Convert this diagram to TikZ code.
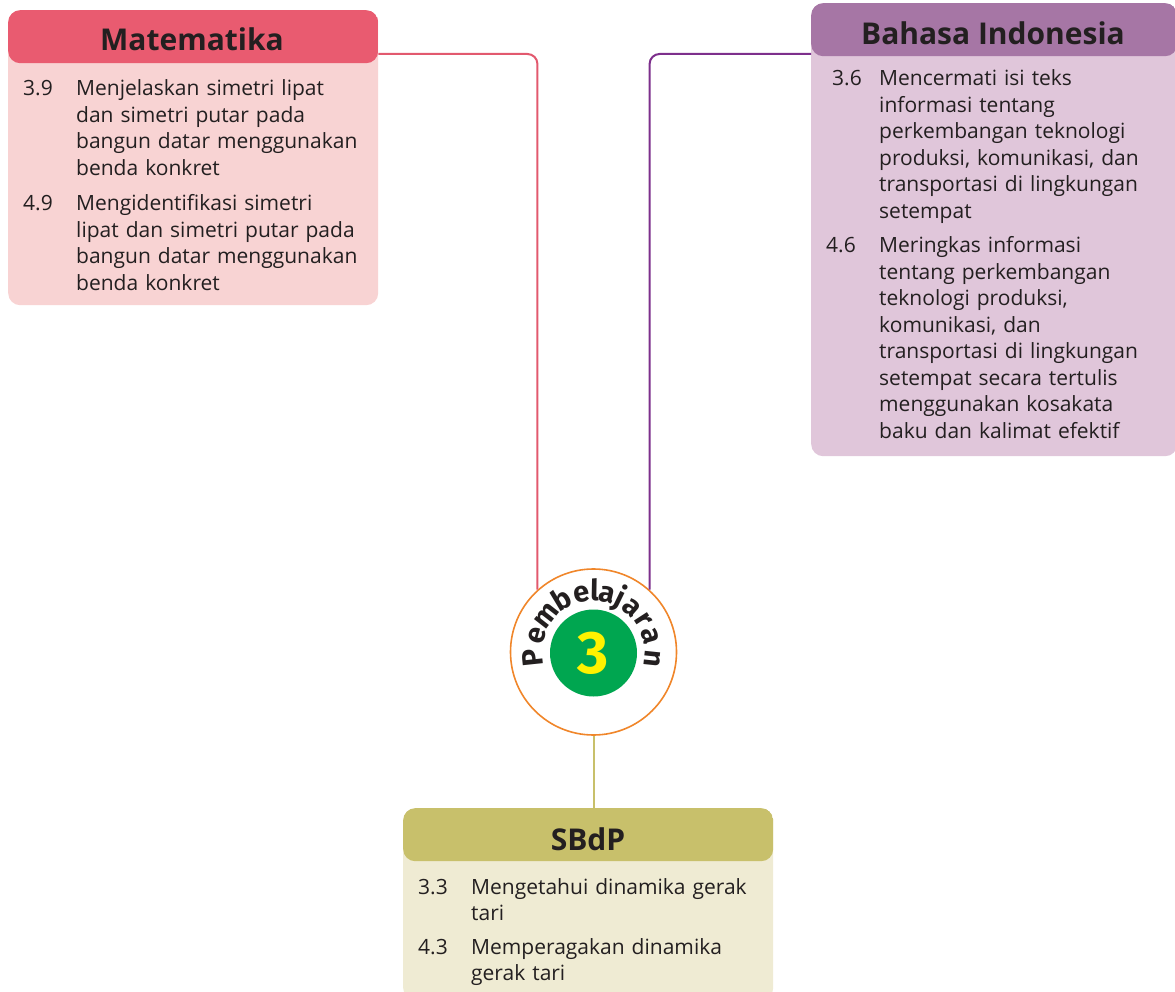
\documentclass[tikz,border=0pt]{standalone}
\usepackage{fontspec}
\setmainfont{Open Sans}
\newfontfamily\ringfont{Fira Sans}
\usetikzlibrary{calc}
\definecolor{ink}{HTML}{231F20}
\definecolor{matHead}{HTML}{E95B70}
\definecolor{matBody}{HTML}{F8D3D3}
\definecolor{matLine}{HTML}{E2596E}
\definecolor{bhsHead}{HTML}{A676A5}
\definecolor{bhsBody}{HTML}{E0C6DA}
\definecolor{bhsLine}{HTML}{7D2F8C}
\definecolor{sbdHead}{HTML}{C8C06B}
\definecolor{sbdBody}{HTML}{EFEBD3}
\definecolor{ringOrange}{HTML}{F0862A}
\definecolor{numGreen}{HTML}{00A650}
\definecolor{numYellow}{HTML}{FFF200}
\begin{document}
\begin{tikzpicture}[x=1pt,y=-1pt,
  bodytxt/.style={anchor=base west, inner sep=0pt, text width=320pt, align=left,
    font=\fontsize{21}{26.5}\selectfont, text=ink},
  numtxt/.style={anchor=base west, inner sep=0pt, font=\fontsize{21}{26.5}\selectfont, text=ink},
  ttl/.style={anchor=base, inner sep=0pt, font=\fontsize{30}{30}\selectfont\bfseries, text=ink},
  box/.style={rectangle, rounded corners=12pt, inner sep=0pt, anchor=north west, draw=none},
  ringletter/.style={anchor=base, inner sep=0pt, font=\ringfont\fontsize{29}{29}\selectfont\bfseries, text=ink},
  conn/.style={line width=2pt, rounded corners=10pt}]
\useasboundingbox (0,0) rectangle (1175,992);

% boxes
\node[box, fill=matBody, minimum width=370pt, minimum height=295pt,
  path picture={\fill[matHead] (path picture bounding box.north west) rectangle ([yshift=-53pt]path picture bounding box.north east);}]
  (mat) at (8,10) {};
\node[box, fill=bhsBody, minimum width=366pt, minimum height=453pt,
  path picture={\fill[bhsHead] (path picture bounding box.north west) rectangle ([yshift=-53pt]path picture bounding box.north east);}]
  (bhs) at (811,3) {};
\node[box, fill=sbdBody, minimum width=370pt, minimum height=192pt,
  path picture={\fill[sbdHead] (path picture bounding box.north west) rectangle ([yshift=-53pt]path picture bounding box.north east);}]
  (sbd) at (403,808) {};

% central circle
\node[circle, draw=ringOrange, line width=1.6pt, fill=white, minimum size=166pt, inner sep=0pt] (circ) at (593.5,652) {};
\node[circle, fill=numGreen, minimum size=87pt, inner sep=0pt, text=numYellow,
  font=\ringfont\fontsize{60}{60}\selectfont\bfseries] (num) at (593.5,653) {3};
\foreach \ch/\a [count=\i] in {P/186,e/164,m/142,b/121,e/102,l/89,a/77,j/64,a/49,r/33,a/16,n/-6}
  \node[ringletter, rotate=\a-90] (ring\i) at ($(circ.center)+(\a:51pt)$) {\ch};

% connectors
\draw[conn, matLine] ([yshift=-44pt]mat.north east) -| (circ.132);
\draw[conn, bhsLine] ([yshift=-51pt]bhs.north west) -| (circ.48);
\draw[line width=2pt, sbdHead] (circ.south) -- (circ.south |- sbd.north);

% titles
\node[ttl] (matT) at (192,51) {Matematika};
\node[ttl] (bhsT) at (993,45) {Bahasa Indonesia};
\node[ttl] (sbdT) at (588,850) {SBdP};

% Matematika items
\node[numtxt] (m1n) at (23,96) {3.9};
\node[bodytxt] (m1t) at (76,96) {Menjelaskan simetri lipat\\dan simetri putar pada\\bangun datar menggunakan\\benda konkret};
\node[numtxt] (m2n) at (23,211) {4.9};
\node[bodytxt] (m2t) at (76,211) {Mengidentifikasi simetri\\lipat dan simetri putar pada\\bangun datar menggunakan\\benda konkret};

% Bahasa Indonesia items
\node[numtxt] (b1n) at (832,86) {3.6};
\node[bodytxt] (b1t) at (879,86) {Mencermati isi teks\\informasi tentang\\perkembangan teknologi\\produksi, komunikasi, dan\\transportasi di lingkungan\\setempat};
\node[numtxt] (b2n) at (826,253) {4.6};
\node[bodytxt] (b2t) at (879,253) {Meringkas informasi\\tentang perkembangan\\teknologi produksi,\\komunikasi, dan\\transportasi di lingkungan\\setempat secara tertulis\\menggunakan kosakata\\baku dan kalimat efektif};

% SBdP items
\node[numtxt] (s1n) at (418,894) {3.3};
\node[bodytxt] (s1t) at (471,894) {Mengetahui dinamika gerak\\tari};
\node[numtxt] (s2n) at (418,954) {4.3};
\node[bodytxt] (s2t) at (471,954) {Memperagakan dinamika\\gerak tari};
\end{tikzpicture}
\end{document}
